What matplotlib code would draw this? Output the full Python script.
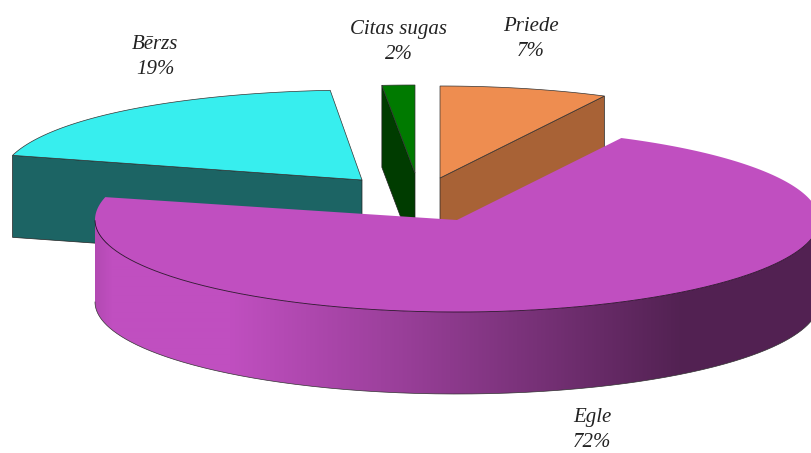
import numpy as np
import matplotlib
matplotlib.use("Agg")
import matplotlib.pyplot as plt
from matplotlib.patches import Polygon

labels = ["Priede", "Egle", "Bērzs", "Citas sugas"]
values = [7, 72, 19, 2]
top_colors = ["#ee8d50", "#c04fc0", "#37eeee", "#007a00"]
side_colors = ["#a86236", None, "#1c6464", "#003c00"]

# exploded position of each slice, all in picture pixels
apex_x = [440, 457, 362, 415]
apex_y = [178, 220, 180, 173]
radius_y = [92, 92, 90, 88]
# the old chart's drawn angles are a little off the rounded labels (degrees)
nudge_start = [0, 1.8, 1.5, 2.2]
nudge_end = [1.8, 0, 2.4, 0]
label_x = [531, 592, 155, 399]
label_y = [39, 430, 57, 42]
depth = 82
rx_left = 362
rx_right = 362

fig = plt.figure(figsize=(8.11, 4.53), dpi=100)
ax = fig.add_axes([0, 0, 1, 1])


def rim(i, theta):
    # squashed circle, left part a bit wider at the far side
    s, c = np.sin(theta), np.cos(theta)
    up = np.clip(c, 0, None) ** 2
    sx = np.where(s < 0, rx_left * (1 + 0.05 * up), rx_right)
    return apex_x[i] + sx * s, apex_y[i] - radius_y[i] * c


# angles come from the values, clockwise from 12 o'clock
edges = np.cumsum(np.r_[0, values]) * 3.6
start = np.radians(edges[:-1] + nudge_start)
end = np.radians(edges[1:] + nudge_end)

# flat cut faces of the small slices
for i, a in [(0, end[0]), (2, start[2]), (3, start[3])]:
    x, y = rim(i, np.array([a]))
    fx = [x[0], apex_x[i], apex_x[i], x[0]]
    fy = [y[0], apex_y[i], apex_y[i] + depth, y[0] + depth]
    ax.fill(fx, fy, facecolor=side_colors[i], edgecolor="#222222", linewidth=0.5, zorder=1)

for i in [0, 2, 3]:
    t = np.linspace(start[i], end[i], 80)
    x, y = rim(i, t)
    ax.fill(np.r_[apex_x[i], x], np.r_[apex_y[i], y], facecolor=top_colors[i],
            edgecolor="#333333", linewidth=0.5, zorder=3)

# big slice: shaded wall as a clipped gradient, then the top
t = np.linspace(np.pi / 2, 3 * np.pi / 2, 500)
x, y = rim(1, t)
wall = Polygon(np.c_[np.r_[x, x[::-1]], np.r_[y, y[::-1] + depth]], closed=True,
               facecolor="none", edgecolor="none", transform=ax.transData)
ax.add_patch(wall)
base = np.array(matplotlib.colors.to_rgb(top_colors[1]))
gx = np.arange(90, 830)
shade = np.interp(gx, [95, 112, 230, 400, 680, 811], [0.93, 1.0, 1.0, 0.8, 0.43, 0.43])
grad = (base[None, None, :] * shade[None, :, None]).clip(0, 1)
img = ax.imshow(grad, extent=[90, 830, 400, 190], aspect="auto", zorder=4, interpolation="bilinear")
img.set_clip_path(wall)
ax.plot(x, y + depth, color="#333333", linewidth=0.5, zorder=5)

t = np.linspace(start[1], end[1], 400)
x, y = rim(1, t)
ax.fill(np.r_[apex_x[1], x], np.r_[apex_y[1], y], facecolor=top_colors[1], zorder=6)
front = (t > np.pi / 2) & (t < 3 * np.pi / 2)
ax.plot(x[front], y[front], color="#2a102a", linewidth=0.6, zorder=7)

for i in range(4):
    ax.text(label_x[i], label_y[i], f"{labels[i]}\n{values[i]}%", ha="center", va="center",
            family="Liberation Serif", style="italic", fontsize=15, color="#222222",
            linespacing=1.45, zorder=8)

ax.set_xlim(0, 811)
ax.set_ylim(453, 0)
ax.axis("off")

fig.savefig("out.png", dpi=100)
